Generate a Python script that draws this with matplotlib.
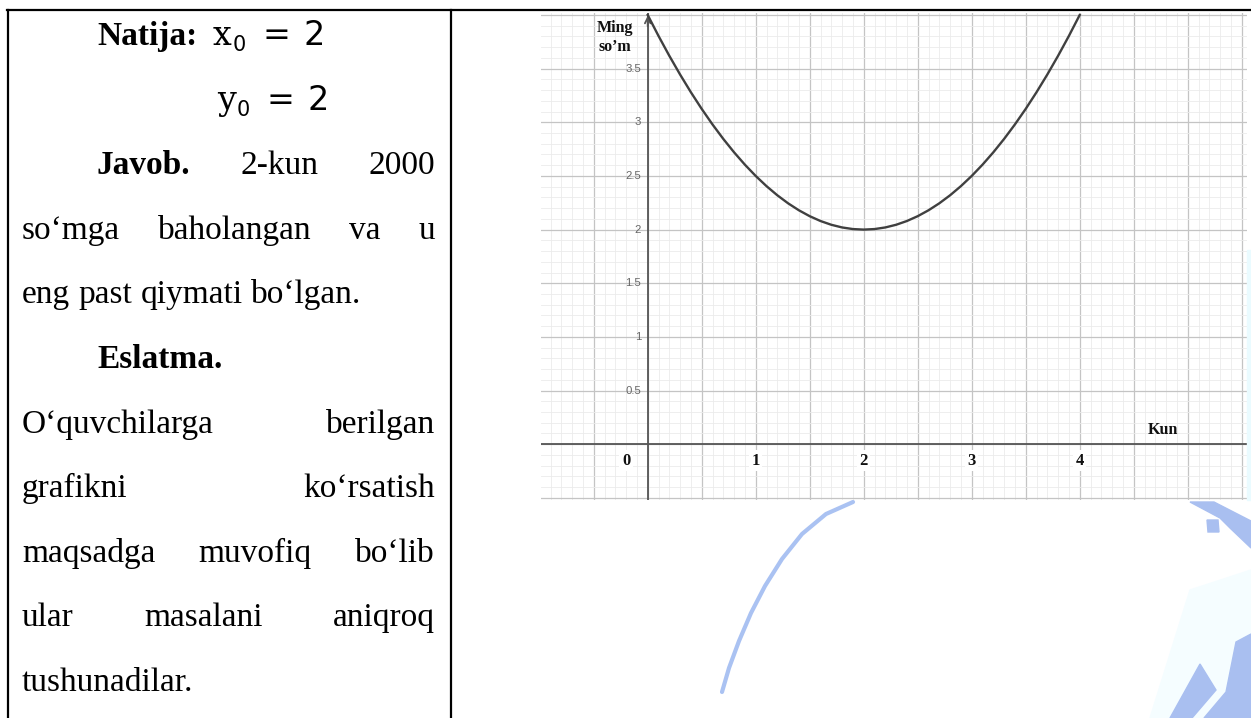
import numpy as np
import matplotlib
matplotlib.use('Agg')
import matplotlib.pyplot as plt
from matplotlib.ticker import MultipleLocator
from matplotlib.lines import Line2D
from matplotlib.patches import Polygon, Rectangle

W, H = 1251, 718

# price curve (day, thousand so'm)
days = [0.0, 0.1, 0.2, 0.3, 0.4, 0.5, 0.6, 0.7, 0.8, 0.9, 1.0,
        1.1, 1.2, 1.3, 1.4, 1.5, 1.6, 1.7, 1.8, 1.9, 2.0,
        2.1, 2.2, 2.3, 2.4, 2.5, 2.6, 2.7, 2.8, 2.9, 3.0,
        3.1, 3.2, 3.3, 3.4, 3.5, 3.6, 3.7, 3.8, 3.9, 4.0]
price = [4.000, 3.805, 3.620, 3.445, 3.280, 3.125, 2.980, 2.845, 2.720, 2.605, 2.500,
         2.405, 2.320, 2.245, 2.180, 2.125, 2.080, 2.045, 2.020, 2.005, 2.000,
         2.005, 2.020, 2.045, 2.080, 2.125, 2.180, 2.245, 2.320, 2.405, 2.500,
         2.605, 2.720, 2.845, 2.980, 3.125, 3.280, 3.445, 3.620, 3.805, 4.000]

x_ticks = [0, 1, 2, 3, 4]
x_labels = ['0', '1', '2', '3', '4']
y_ticks = [0.5, 1, 1.5, 2, 2.5, 3, 3.5]
y_labels = ['0.5', '1', '1.5', '2', '2.5', '3', '3.5']

# left cell text: (words, first word bold?, justified?, indent)
para_lines = [
    (['Javob.', '2-kun', '2000'], True, True, 97),
    (['so‘mga', 'baholangan', 'va', 'u'], False, True, 22),
    (['eng', 'past', 'qiymati', 'bo‘lgan.'], False, False, 22),
    (['Eslatma.'], True, False, 97),
    (['O‘quvchilarga', 'berilgan'], False, True, 22),
    (['grafikni', 'ko‘rsatish'], False, True, 22),
    (['maqsadga', 'muvofiq', 'bo‘lib'], False, True, 22),
    (['ular', 'masalani', 'aniqroq'], False, True, 22),
    (['tushunadilar.'], False, False, 22),
]

# watermark pieces (pixel coords)
arc_pts = [(722, 692), (729, 668), (739, 641), (751, 613), (765, 586),
           (782, 559), (802, 534), (826, 514), (853, 502)]
globe_pieces = [
    [(1190, 502), (1214, 502), (1251, 521), (1251, 548), (1230, 528), (1220, 518)],
    [(1207, 520), (1218, 520), (1219, 532), (1208, 532)],
    [(1170, 718), (1200, 664), (1216, 690), (1192, 718)],
    [(1204, 718), (1226, 692), (1236, 642), (1251, 634), (1251, 718)],
]

fig = plt.figure(figsize=(W / 100, H / 100), dpi=100)
fig.patch.set_facecolor('white')


def fx(px):
    return px / W


def fy(py):
    return 1 - py / H


# watermark glow and pieces
fig.patches.append(Rectangle((fx(1247), fy(500)), fx(4), 250 / H,
                             transform=fig.transFigure, color='#eafbff', zorder=0))
fig.patches.append(Polygon([(fx(1150), fy(718)), (fx(1190), fy(590)), (fx(1251), fy(570)),
                            (fx(1251), fy(718))], closed=True, transform=fig.transFigure,
                           color='#f5fdff', zorder=0))
fig.lines.append(Line2D([fx(p[0]) for p in arc_pts], [fy(p[1]) for p in arc_pts],
                        transform=fig.transFigure, color='#aac2f2', lw=3,
                        solid_capstyle='round', zorder=1))
for pc in globe_pieces:
    fig.patches.append(Polygon([(fx(a), fy(b)) for a, b in pc], closed=True,
                               transform=fig.transFigure, color='#a9bff0', zorder=1))

# chart
x0_px, y0_px = 647.7, 444.2
sx, sy = 108.0, 107.3
left_px, right_px, top_px, bot_px = 540.7, 1247.0, 13.0, 500.0
ax = fig.add_axes([fx(left_px), fy(bot_px), (right_px - left_px) / W, (bot_px - top_px) / H])
ax.set_xlim((left_px - x0_px) / sx, (right_px - x0_px) / sx)
ax.set_ylim((y0_px - bot_px) / sy, (y0_px - top_px) / sy)
ax.set_facecolor('white')
for s in ax.spines.values():
    s.set_visible(False)
ax.xaxis.set_major_locator(MultipleLocator(0.5))
ax.xaxis.set_minor_locator(MultipleLocator(0.1))
ax.yaxis.set_major_locator(MultipleLocator(0.5))
ax.yaxis.set_minor_locator(MultipleLocator(0.1))
ax.grid(which='major', color='#c4c4c4', lw=0.9)
ax.grid(which='minor', color='#ebebeb', lw=0.6)
ax.tick_params(which='both', length=0, labelbottom=False, labelleft=False)
ax.set_axisbelow(True)

ax.axhline(0, color='#555555', lw=1.3, zorder=3)
ax.axvline(0, color='#555555', lw=1.3, zorder=3)
ytop = ax.get_ylim()[1]
ax.annotate('', xy=(0, ytop), xytext=(0, ytop - 0.15),
            arrowprops=dict(arrowstyle='->', color='#555555', lw=1.3), zorder=4)

ax.plot(days, price, color='#404040', lw=1.7, zorder=5, clip_on=False,
        solid_joinstyle='round')

for v, lab in zip(y_ticks, y_labels):
    ax.text(-0.06, v, lab, ha='right', va='center', fontsize=8.2,
            family='Liberation Sans', color='#666666', zorder=4)
for v, lab in zip(x_ticks, x_labels):
    xp = v - 0.2 if v == 0 else v
    ax.text(xp, -0.154, lab, ha='center', va='center', fontsize=12,
            family='Liberation Serif', weight='bold', color='#111111', zorder=4,
            bbox=dict(boxstyle='square,pad=0.15', fc='white', ec='none'))

ax.text(4.77, 0.13, 'Kun', ha='center', va='center', fontsize=11.5,
        family='Liberation Serif', weight='bold', color='#111111', zorder=4)
ax.text(-0.30, 3.84, 'Ming', ha='center', va='baseline', fontsize=11.5,
        family='Liberation Serif', weight='bold', color='#111111', zorder=4)
ax.text(-0.30, 3.66, 'so’m', ha='center', va='baseline', fontsize=11.5,
        family='Liberation Serif', weight='bold', color='#111111', zorder=4)

# table borders
bk = dict(transform=fig.transFigure, color='black', lw=1.6, zorder=10)
fig.lines.append(Line2D([fx(7), fx(1251)], [fy(9.5), fy(9.5)], **bk))
fig.lines.append(Line2D([fx(7.5), fx(7.5)], [fy(9.5), fy(718)], **bk))
fig.lines.append(Line2D([fx(451.5), fx(451.5)], [fy(9.5), fy(718)], **bk))

# left cell text
FS = 24
serif = 'Liberation Serif'
renderer = fig.canvas.get_renderer()

fig.text(fx(97), fy(45), 'Natija:', fontsize=FS, family=serif, weight='bold', va='baseline')
for var, xa, ya in [('x', 213, 45), ('y', 217, 109.6)]:
    tv = fig.text(fx(xa), fy(ya), var, fontsize=FS, family='DejaVu Serif', va='baseline')
    vw = tv.get_window_extent(renderer).width
    fig.text(fx(xa + vw + 1), fy(ya + 6), '0', fontsize=15, family='DejaVu Sans', va='baseline')
    fig.text(fx(xa + 50), fy(ya), '=', fontsize=FS, family='DejaVu Sans', va='baseline')
    fig.text(fx(xa + 90), fy(ya), '2', fontsize=FS, family='DejaVu Sans', va='baseline')

base = 174.2
step = 64.6
right_margin = 435
for i, (words, bold_first, justify, indent) in enumerate(para_lines):
    yb = base + i * step
    texts = []
    for j, w in enumerate(words):
        wt = 'bold' if (bold_first and j == 0) else 'normal'
        texts.append(fig.text(0, fy(yb), w, fontsize=FS, family=serif, weight=wt, va='baseline'))
    widths = [t.get_window_extent(renderer).width for t in texts]
    if justify and len(words) > 1:
        gap = (right_margin - indent - sum(widths)) / (len(words) - 1)
    else:
        gap = 0.25 * FS * 100 / 72
    xp = indent
    for t, wd in zip(texts, widths):
        t.set_x(fx(xp))
        xp += wd + gap

fig.savefig('out.png', dpi=100)
